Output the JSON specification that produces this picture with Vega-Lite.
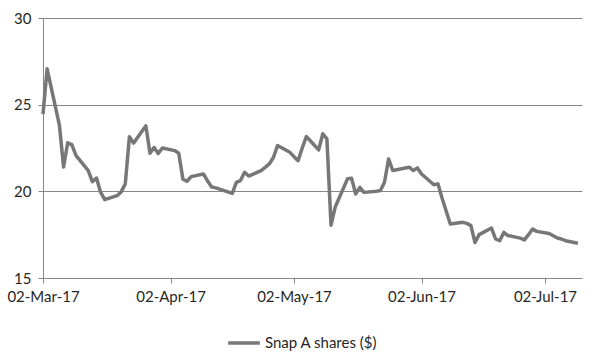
{
  "$schema": "https://vega.github.io/schema/vega-lite/v6.json",
  "width": 539,
  "height": 260,
  "autosize": {"type": "none"},
  "padding": {"left": 43, "top": 18, "right": 19, "bottom": 83},
  "background": "white",
  "config": {
    "view": {"stroke": null},
    "font": "Lato",
    "axis": {"labelFont": "Lato", "labelFontSize": 15, "labelColor": "#262626", "domainColor": "#868686", "tickColor": "#868686", "gridColor": "#868686", "tickSize": 5, "titleFontSize": 0}
  },
  "data": {
    "values": [
      {"date": "2017-03-02", "price": 24.45},
      {"date": "2017-03-03", "price": 27.07},
      {"date": "2017-03-06", "price": 23.8},
      {"date": "2017-03-07", "price": 21.4},
      {"date": "2017-03-08", "price": 22.8},
      {"date": "2017-03-09", "price": 22.7},
      {"date": "2017-03-10", "price": 22.07},
      {"date": "2017-03-13", "price": 21.2},
      {"date": "2017-03-14", "price": 20.56},
      {"date": "2017-03-15", "price": 20.77},
      {"date": "2017-03-16", "price": 19.95},
      {"date": "2017-03-17", "price": 19.52},
      {"date": "2017-03-20", "price": 19.75},
      {"date": "2017-03-21", "price": 19.97},
      {"date": "2017-03-22", "price": 20.43},
      {"date": "2017-03-23", "price": 23.15},
      {"date": "2017-03-24", "price": 22.78},
      {"date": "2017-03-27", "price": 23.78},
      {"date": "2017-03-28", "price": 22.2},
      {"date": "2017-03-29", "price": 22.53},
      {"date": "2017-03-30", "price": 22.18},
      {"date": "2017-03-31", "price": 22.5},
      {"date": "2017-04-03", "price": 22.35},
      {"date": "2017-04-04", "price": 22.2},
      {"date": "2017-04-05", "price": 20.7},
      {"date": "2017-04-06", "price": 20.58},
      {"date": "2017-04-07", "price": 20.85},
      {"date": "2017-04-10", "price": 21.0},
      {"date": "2017-04-11", "price": 20.6},
      {"date": "2017-04-12", "price": 20.25},
      {"date": "2017-04-13", "price": 20.2},
      {"date": "2017-04-17", "price": 19.88},
      {"date": "2017-04-18", "price": 20.52},
      {"date": "2017-04-19", "price": 20.62},
      {"date": "2017-04-20", "price": 21.1},
      {"date": "2017-04-21", "price": 20.88},
      {"date": "2017-04-24", "price": 21.2},
      {"date": "2017-04-25", "price": 21.38},
      {"date": "2017-04-26", "price": 21.58},
      {"date": "2017-04-27", "price": 21.95},
      {"date": "2017-04-28", "price": 22.64},
      {"date": "2017-05-01", "price": 22.25},
      {"date": "2017-05-02", "price": 22.0},
      {"date": "2017-05-03", "price": 21.77},
      {"date": "2017-05-04", "price": 22.5},
      {"date": "2017-05-05", "price": 23.16},
      {"date": "2017-05-08", "price": 22.39},
      {"date": "2017-05-09", "price": 23.32},
      {"date": "2017-05-10", "price": 23.03},
      {"date": "2017-05-11", "price": 18.05},
      {"date": "2017-05-12", "price": 19.08},
      {"date": "2017-05-15", "price": 20.72},
      {"date": "2017-05-16", "price": 20.75},
      {"date": "2017-05-17", "price": 19.85},
      {"date": "2017-05-18", "price": 20.23},
      {"date": "2017-05-19", "price": 19.94},
      {"date": "2017-05-22", "price": 20.0},
      {"date": "2017-05-23", "price": 20.04},
      {"date": "2017-05-24", "price": 20.52},
      {"date": "2017-05-25", "price": 21.87},
      {"date": "2017-05-26", "price": 21.2},
      {"date": "2017-05-30", "price": 21.39},
      {"date": "2017-05-31", "price": 21.2},
      {"date": "2017-06-01", "price": 21.35},
      {"date": "2017-06-02", "price": 21.0},
      {"date": "2017-06-05", "price": 20.38},
      {"date": "2017-06-06", "price": 20.43},
      {"date": "2017-06-07", "price": 19.6},
      {"date": "2017-06-08", "price": 18.85},
      {"date": "2017-06-09", "price": 18.12},
      {"date": "2017-06-12", "price": 18.21},
      {"date": "2017-06-13", "price": 18.15},
      {"date": "2017-06-14", "price": 18.02},
      {"date": "2017-06-15", "price": 17.05},
      {"date": "2017-06-16", "price": 17.5},
      {"date": "2017-06-19", "price": 17.88},
      {"date": "2017-06-20", "price": 17.25},
      {"date": "2017-06-21", "price": 17.15},
      {"date": "2017-06-22", "price": 17.63},
      {"date": "2017-06-23", "price": 17.45},
      {"date": "2017-06-26", "price": 17.3},
      {"date": "2017-06-27", "price": 17.2},
      {"date": "2017-06-28", "price": 17.5},
      {"date": "2017-06-29", "price": 17.83},
      {"date": "2017-06-30", "price": 17.69},
      {"date": "2017-07-03", "price": 17.57},
      {"date": "2017-07-05", "price": 17.31},
      {"date": "2017-07-06", "price": 17.25},
      {"date": "2017-07-07", "price": 17.15},
      {"date": "2017-07-10", "price": 17.0}
    ]
  },
  "mark": {"type": "line", "strokeWidth": 3.5, "strokeJoin": "round", "interpolate": "linear"},
  "encoding": {
    "x": {
      "field": "date",
      "type": "temporal",
      "title": null,
      "scale": {"type": "utc", "domain": [{"year": 2017, "month": 3, "date": 2, "utc": true}, {"year": 2017, "month": 7, "date": 11, "utc": true}]},
      "axis": {
        "values": [
          {"year": 2017, "month": 3, "date": 2, "utc": true},
          {"year": 2017, "month": 4, "date": 2, "utc": true},
          {"year": 2017, "month": 5, "date": 2, "utc": true},
          {"year": 2017, "month": 6, "date": 2, "utc": true},
          {"year": 2017, "month": 7, "date": 2, "utc": true}
        ],
        "format": "%d-%b-%y",
        "grid": false,
        "labelPadding": 6,
        "labelFlush": false,
        "labelOverlap": false
      }
    },
    "y": {
      "field": "price",
      "type": "quantitative",
      "title": null,
      "scale": {"domain": [15, 30], "nice": false, "zero": false},
      "axis": {"values": [15, 20, 25, 30], "grid": true, "labelPadding": 7}
    },
    "color": {
      "datum": "Snap A shares ($)",
      "type": "nominal",
      "scale": {"range": ["#777777"]},
      "legend": {
        "title": null,
        "orient": "none",
        "legendX": 183,
        "legendY": 307,
        "direction": "horizontal",
        "symbolType": "stroke",
        "symbolStrokeWidth": 3.5,
        "symbolSize": 1000,
        "labelFont": "Lato",
        "labelFontSize": 15,
        "labelColor": "#262626",
        "labelOffset": 3
      }
    }
  }
}
